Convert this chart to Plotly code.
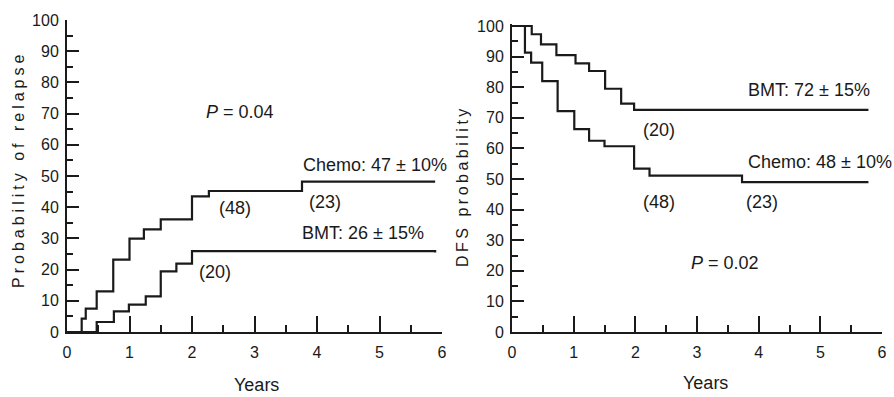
import plotly.graph_objects as go

# ---- data ----
relapse_chemo_t = [0, 0.235, 0.30, 0.475, 0.74, 1.0, 1.23, 1.5, 2.0, 2.27, 3.76, 5.89]
relapse_chemo_p = [0, 4.3, 7.5, 13, 23.2, 29.9, 32.9, 36.1, 43.5, 45.2, 48.2, 48.2]
relapse_bmt_t = [0, 0.475, 0.75, 0.99, 1.26, 1.5, 1.75, 2.0, 5.89]
relapse_bmt_p = [0, 3.2, 6.6, 8.8, 11.4, 19.4, 21.9, 25.9, 25.5]

dfs_bmt_t = [0, 0.32, 0.47, 0.72, 1.03, 1.25, 1.51, 1.77, 1.98, 5.78]
dfs_bmt_p = [100, 97.3, 94, 90.5, 87.8, 85.3, 79.5, 74.6, 72.6, 72.6]
dfs_chemo_t = [0, 0.21, 0.31, 0.49, 0.74, 1.01, 1.25, 1.5, 1.98, 2.23, 3.73, 5.78]
dfs_chemo_p = [100, 91.3, 88, 82, 72.2, 66.3, 62.5, 60.7, 53.4, 51.1, 49.0, 49.0]

x_ticks = [0, 1, 2, 3, 4, 5, 6]
y_ticks = [0, 10, 20, 30, 40, 50, 60, 70, 80, 90, 100]

W, H = 894, 397
INK = "#1a1a1a"
SANS = "Liberation Sans, Arial, Helvetica, sans-serif"

def px_x(p):
    return p / W

def px_y(p):
    return (H - p) / H

fig = go.Figure()
line = dict(color=INK, width=2.2, shape="hv")
fig.add_trace(go.Scatter(x=relapse_chemo_t, y=relapse_chemo_p, mode="lines", line=line, xaxis="x", yaxis="y", showlegend=False))
fig.add_trace(go.Scatter(x=relapse_bmt_t, y=relapse_bmt_p, mode="lines", line=line, xaxis="x", yaxis="y", showlegend=False))
fig.add_trace(go.Scatter(x=dfs_bmt_t, y=dfs_bmt_p, mode="lines", line=line, xaxis="x2", yaxis="y2", showlegend=False))
fig.add_trace(go.Scatter(x=dfs_chemo_t, y=dfs_chemo_p, mode="lines", line=line, xaxis="x2", yaxis="y2", showlegend=False))

tick_font = dict(family=SANS, size=16, color=INK)

def xax(domain, anchor):
    return dict(domain=domain, anchor=anchor, range=[0, 6], tickvals=x_ticks, ticks="inside",
                ticklen=16, tickwidth=2, tickcolor=INK, showline=True, linecolor=INK, linewidth=2,
                showgrid=False, zeroline=False, tickfont=tick_font,
                minor=dict(ticks="inside", ticklen=7, tickwidth=2, tickcolor=INK, dtick=0.5, tick0=0, showgrid=False),
                ticklabelstandoff=5)

def yax(domain, anchor, rng):
    return dict(domain=domain, anchor=anchor, range=rng, tickvals=y_ticks, ticks="inside",
                ticklen=12, tickwidth=2, tickcolor=INK, showline=True, linecolor=INK, linewidth=2,
                showgrid=False, zeroline=False, tickfont=tick_font,
                minor=dict(ticks="inside", ticklen=6, tickwidth=2, tickcolor=INK, dtick=5, tick0=0, showgrid=False),
                ticklabelstandoff=3)

# right panel: 0 at px 332, 100 at px 26 -> top of range 100.6
r_top = 332 - (332 - 26) * 100.6 / 100

fig.update_layout(
    width=W, height=H, margin=dict(l=0, r=0, t=0, b=0, autoexpand=False),
    paper_bgcolor="white", plot_bgcolor="white",
    xaxis=xax([px_x(67), px_x(442)], "y"),
    yaxis=yax([px_y(332), px_y(20)], "x", [0, 100]),
    xaxis2=xax([px_x(512), px_x(882)], "y2"),
    yaxis2=yax([px_y(332), px_y(r_top)], "x2", [0, 100.6]),
)

ann_font = dict(family=SANS, size=18, color=INK)
labels_left = [
    ("<i>P</i> = 0.04", 2.77, 70.5),
    ("Chemo: 47 ± 10%", 4.92, 53.5),
    ("(48)", 2.69, 39.7),
    ("(23)", 4.13, 41.7),
    ("BMT: 26 ± 15%", 4.74, 31.7),
    ("(20)", 2.37, 19.2),
]
labels_right = [
    ("BMT: 72 ± 15%", 4.82, 79),
    ("(20)", 2.38, 66),
    ("Chemo: 48 ± 10%", 5.0, 55.5),
    ("(48)", 2.38, 42.4),
    ("(23)", 4.06, 42.4),
    ("<i>P</i> = 0.02", 3.46, 22.4),
]
for t, x, y in labels_left:
    fig.add_annotation(text=t, x=x, y=y, xref="x", yref="y", showarrow=False, font=ann_font,
                       xanchor="center", yanchor="middle")
for t, x, y in labels_right:
    fig.add_annotation(text=t, x=x, y=y, xref="x2", yref="y2", showarrow=False, font=ann_font,
                       xanchor="center", yanchor="middle")

title_font = dict(family=SANS, size=16, color=INK)
fig.add_annotation(text="<span style='letter-spacing:4px'>Probability of relapse</span>", textangle=-90,
                   x=px_x(18), y=px_y(170), xref="paper", yref="paper", showarrow=False, font=title_font,
                   xanchor="center", yanchor="middle")
fig.add_annotation(text="<span style='letter-spacing:3.5px'>DFS probability</span>", textangle=-90,
                   x=px_x(462), y=px_y(186), xref="paper", yref="paper", showarrow=False, font=title_font,
                   xanchor="center", yanchor="middle")
fig.add_annotation(text="Years", x=px_x(256), y=px_y(385), xref="paper", yref="paper", showarrow=False,
                   font=dict(family=SANS, size=18, color=INK), xanchor="center", yanchor="middle")
fig.add_annotation(text="Years", x=px_x(705), y=px_y(383), xref="paper", yref="paper", showarrow=False,
                   font=dict(family=SANS, size=18, color=INK), xanchor="center", yanchor="middle")

fig.write_html("out.html")
